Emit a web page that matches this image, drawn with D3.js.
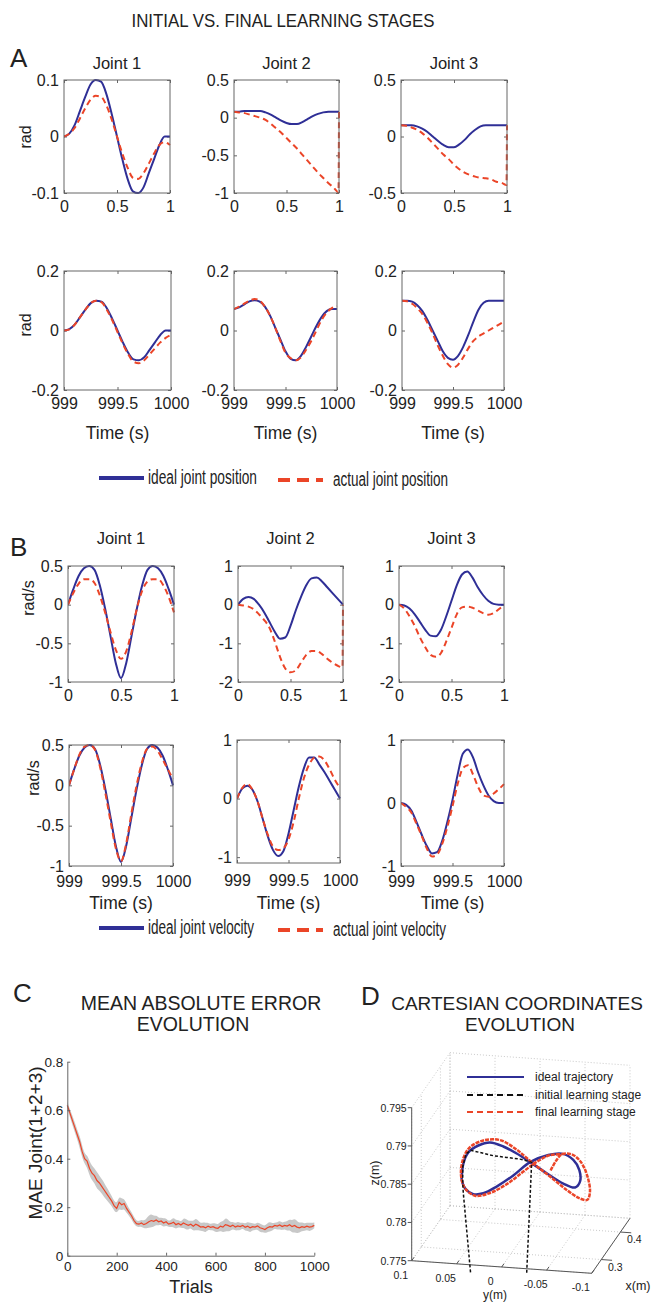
<!DOCTYPE html>
<html>
<head>
<meta charset="utf-8">
<script src="https://cdn.jsdelivr.net/npm/d3@7"></script>
<style>
  body { margin: 0; background: #fff; }
  text { font-family: "Liberation Sans", Arial, sans-serif; fill: #222; }
</style>
</head>
<body>
<svg id="fig" width="656" height="1302"></svg>
<script>
// ---------- data ----------
var jointNames = ["Joint 1", "Joint 2", "Joint 3"];

var tInit = [0, 0.05, 0.1, 0.15, 0.2, 0.25, 0.3, 0.35, 0.4, 0.45, 0.5, 0.55, 0.6, 0.65, 0.7, 0.75, 0.8, 0.85, 0.9, 0.95, 1];
var tInitJump = [0, 0.05, 0.1, 0.15, 0.2, 0.25, 0.3, 0.35, 0.4, 0.45, 0.5, 0.55, 0.6, 0.65, 0.7, 0.75, 0.8, 0.85, 0.9, 0.95, 0.995, 1];
var tFinal = [999, 999.05, 999.1, 999.15, 999.2, 999.25, 999.3, 999.35, 999.4, 999.45, 999.5, 999.55, 999.6, 999.65, 999.7, 999.75, 999.8, 999.85, 999.9, 999.95, 1000];

// A: joint positions, initial stage
var posIdealInit1 = [0, 0.005, 0.02, 0.045, 0.07, 0.092, 0.1, 0.097, 0.075, 0.04, 0, -0.04, -0.075, -0.097, -0.1, -0.09, -0.065, -0.04, -0.015, 0, 0];
var posActualInit1 = [0, 0.005, 0.015, 0.032, 0.05, 0.065, 0.072, 0.07, 0.055, 0.03, 0, -0.03, -0.055, -0.073, -0.075, -0.065, -0.048, -0.03, -0.015, -0.01, -0.015];
var posIdealInit2 = [0.08, 0.08, 0.09, 0.09, 0.09, 0.09, 0.07, 0.04, 0, -0.04, -0.07, -0.085, -0.085, -0.06, -0.02, 0.02, 0.05, 0.07, 0.08, 0.08, 0.08];
var posActualInit2 = [0.08, 0.07, 0.06, 0.04, 0.02, 0, -0.03, -0.08, -0.14, -0.2, -0.27, -0.34, -0.41, -0.49, -0.57, -0.65, -0.73, -0.8, -0.87, -0.93, -0.99, 0.08];
var posIdealInit3 = [0.1, 0.1, 0.1, 0.09, 0.07, 0.04, 0, -0.04, -0.075, -0.095, -0.095, -0.07, -0.03, 0.02, 0.06, 0.09, 0.1, 0.1, 0.1, 0.1, 0.1];
var posActualInit3 = [0.1, 0.095, 0.08, 0.06, 0.03, -0.01, -0.06, -0.11, -0.16, -0.2, -0.25, -0.29, -0.32, -0.34, -0.355, -0.365, -0.37, -0.38, -0.4, -0.41, -0.43, 0.1];

// A: joint positions, final stage
var posIdealFinal1 = [0, 0.005, 0.02, 0.045, 0.07, 0.092, 0.1, 0.097, 0.075, 0.04, 0, -0.04, -0.075, -0.097, -0.1, -0.09, -0.065, -0.04, -0.015, 0, 0];
var posActualFinal1 = [0, 0.004, 0.02, 0.045, 0.07, 0.092, 0.1, 0.095, 0.07, 0.035, -0.005, -0.045, -0.08, -0.105, -0.11, -0.1, -0.08, -0.06, -0.04, -0.025, -0.015];
var posIdealFinal2 = [0.072, 0.078, 0.088, 0.098, 0.102, 0.097, 0.08, 0.05, 0.01, -0.03, -0.07, -0.095, -0.1, -0.085, -0.055, -0.02, 0.015, 0.045, 0.065, 0.072, 0.072];
var posActualFinal2 = [0.072, 0.08, 0.09, 0.1, 0.106, 0.1, 0.08, 0.05, 0.01, -0.035, -0.075, -0.093, -0.1, -0.09, -0.065, -0.035, 0, 0.035, 0.06, 0.075, 0.082];
var posIdealFinal3 = [0.1, 0.1, 0.097, 0.085, 0.065, 0.035, 0, -0.035, -0.07, -0.092, -0.098, -0.085, -0.055, -0.015, 0.03, 0.07, 0.093, 0.1, 0.1, 0.1, 0.1];
var posActualFinal3 = [0.1, 0.098, 0.09, 0.075, 0.055, 0.025, -0.01, -0.05, -0.085, -0.113, -0.125, -0.115, -0.09, -0.06, -0.035, -0.02, -0.01, 0, 0.01, 0.02, 0.03];

// B: joint velocities, initial stage
var velIdealInit1 = [0, 0.2, 0.37, 0.47, 0.5, 0.45, 0.25, -0.05, -0.4, -0.75, -0.95, -0.75, -0.4, -0.05, 0.25, 0.45, 0.5, 0.47, 0.37, 0.2, 0];
var velActualInit1 = [0, 0.15, 0.27, 0.33, 0.33, 0.28, 0.12, -0.1, -0.35, -0.58, -0.7, -0.6, -0.35, -0.05, 0.18, 0.3, 0.33, 0.33, 0.25, 0.1, -0.1];
var velIdealInit2 = [0, 0.15, 0.2, 0.15, 0, -0.2, -0.45, -0.7, -0.88, -0.85, -0.55, -0.15, 0.2, 0.5, 0.68, 0.7, 0.6, 0.45, 0.3, 0.15, 0];
var velActualInit2 = [0, -0.02, -0.05, -0.12, -0.25, -0.4, -0.6, -0.95, -1.35, -1.65, -1.75, -1.7, -1.5, -1.3, -1.2, -1.2, -1.28, -1.4, -1.5, -1.58, -1.62, 0];
var velIdealInit3 = [0, -0.02, -0.1, -0.25, -0.45, -0.65, -0.8, -0.82, -0.65, -0.3, 0.1, 0.5, 0.78, 0.86, 0.7, 0.45, 0.25, 0.1, 0.02, 0, 0];
var velActualInit3 = [0, -0.1, -0.3, -0.55, -0.85, -1.1, -1.3, -1.35, -1.25, -0.95, -0.6, -0.25, -0.07, -0.05, -0.08, -0.15, -0.22, -0.26, -0.22, -0.12, 0];

// B: joint velocities, final stage
var velIdealFinal1 = [0, 0.2, 0.37, 0.47, 0.5, 0.45, 0.25, -0.05, -0.4, -0.75, -0.95, -0.75, -0.4, -0.05, 0.25, 0.45, 0.5, 0.47, 0.37, 0.2, 0];
var velActualFinal1 = [0, 0.2, 0.38, 0.48, 0.5, 0.44, 0.22, -0.1, -0.45, -0.78, -0.94, -0.72, -0.35, 0, 0.28, 0.45, 0.48, 0.43, 0.32, 0.2, 0.08];
var velIdealFinal2 = [0, 0.17, 0.22, 0.15, -0.05, -0.35, -0.65, -0.88, -0.98, -0.9, -0.6, -0.2, 0.2, 0.52, 0.7, 0.7, 0.58, 0.45, 0.3, 0.15, 0];
var velActualFinal2 = [0, 0.18, 0.25, 0.15, -0.05, -0.35, -0.62, -0.82, -0.88, -0.85, -0.7, -0.4, 0, 0.35, 0.58, 0.7, 0.72, 0.65, 0.5, 0.32, 0.18];
var velIdealFinal3 = [0, -0.03, -0.12, -0.3, -0.5, -0.68, -0.8, -0.78, -0.6, -0.3, 0.05, 0.45, 0.78, 0.85, 0.72, 0.48, 0.28, 0.12, 0.03, 0, 0];
var velActualFinal3 = [0, -0.06, -0.15, -0.33, -0.52, -0.72, -0.85, -0.82, -0.65, -0.38, -0.05, 0.3, 0.55, 0.6, 0.45, 0.25, 0.12, 0.1, 0.15, 0.22, 0.3];

// C: mean absolute error per trial
var trials = [0, 10, 20, 30, 40, 50, 60, 70, 80, 90, 100, 110, 120, 130, 140, 150, 160, 170, 180, 190, 200,
  210, 220, 230, 240, 250, 260, 270, 280, 290, 300, 310, 320, 330, 340, 350, 360, 370, 380, 390, 400,
  410, 420, 430, 440, 450, 460, 470, 480, 490, 500, 510, 520, 530, 540, 550, 560, 570, 580, 590, 600,
  610, 620, 630, 640, 650, 660, 670, 680, 690, 700, 710, 720, 730, 740, 750, 760, 770, 780, 790, 800,
  810, 820, 830, 840, 850, 860, 870, 880, 890, 900, 910, 920, 930, 940, 950, 960, 970, 980, 990, 1000];
var maeMean = [0.62, 0.59, 0.56, 0.53, 0.5, 0.47, 0.43, 0.4, 0.39, 0.36, 0.34, 0.33, 0.31, 0.3, 0.285, 0.27, 0.255, 0.24, 0.225, 0.205, 0.195,
  0.22, 0.21, 0.215, 0.195, 0.18, 0.165, 0.145, 0.132, 0.13, 0.135, 0.128, 0.133, 0.14, 0.145, 0.142, 0.147, 0.14, 0.143, 0.135, 0.14,
  0.13, 0.133, 0.138, 0.128, 0.133, 0.127, 0.135, 0.13, 0.125, 0.13, 0.122, 0.13, 0.125, 0.118, 0.12, 0.115, 0.122, 0.117, 0.12, 0.115,
  0.113, 0.122, 0.118, 0.128, 0.125, 0.12, 0.126, 0.118, 0.123, 0.12, 0.125, 0.117, 0.122, 0.115, 0.12, 0.118, 0.123, 0.115, 0.112, 0.108,
  0.115, 0.12, 0.118, 0.125, 0.122, 0.127, 0.12, 0.125, 0.122, 0.128, 0.12, 0.125, 0.118, 0.115, 0.12, 0.117, 0.122, 0.118, 0.12, 0.125];
var maeSpread = [0.015, 0.015, 0.02, 0.02, 0.02, 0.025, 0.025, 0.02, 0.025, 0.03, 0.03, 0.03, 0.035, 0.03, 0.03, 0.03, 0.025, 0.025, 0.02, 0.02, 0.02,
  0.025, 0.025, 0.02, 0.02, 0.015, 0.015, 0.015, 0.012, 0.012, 0.015, 0.015, 0.02, 0.025, 0.028, 0.022, 0.02, 0.015, 0.015, 0.018, 0.015,
  0.012, 0.015, 0.02, 0.018, 0.015, 0.012, 0.02, 0.022, 0.018, 0.015, 0.02, 0.025, 0.02, 0.015, 0.018, 0.02, 0.015, 0.012, 0.015, 0.018,
  0.015, 0.02, 0.022, 0.028, 0.025, 0.018, 0.015, 0.015, 0.018, 0.015, 0.012, 0.015, 0.018, 0.02, 0.015, 0.012, 0.015, 0.018, 0.015, 0.015,
  0.018, 0.02, 0.015, 0.012, 0.015, 0.018, 0.015, 0.015, 0.02, 0.022, 0.025, 0.028, 0.025, 0.02, 0.018, 0.015, 0.015, 0.018, 0.015, 0.012];

// D: cartesian trajectories (y, z in metres, drawn at depth trajDepth)
var trajDepth = 0.35;
var idealY = [0.0658, 0.0639, 0.0584, 0.0472, 0.0343, 0.0195, 0.0046, -0.0102, -0.0287, -0.0472, -0.0602, -0.0657, -0.065, -0.0583, -0.0454, -0.0305, -0.0102, 0.0084, 0.0269, 0.0417, 0.0528, 0.0621, 0.0658];
var idealZ = [0.7823, 0.7844, 0.7859, 0.7869, 0.7874, 0.787, 0.7862, 0.7852, 0.7839, 0.7827, 0.7823, 0.7831, 0.7846, 0.7859, 0.7866, 0.7863, 0.7852, 0.7833, 0.7817, 0.7807, 0.7805, 0.7812, 0.7823];
var finalY = [-0.0331, -0.0391, -0.0454, -0.0565, -0.0665, -0.0739, -0.0768, -0.0739, -0.0657, -0.0509, -0.0324, -0.012, 0.0046, 0.0232, 0.0417, 0.0565, 0.0639, 0.0665, 0.0621, 0.0509, 0.0343, 0.0158, -0.0028, -0.0176, -0.0324, -0.0454];
var finalZ = [0.7843, 0.7856, 0.7865, 0.7866, 0.7857, 0.7839, 0.7819, 0.7808, 0.7809, 0.7819, 0.7835, 0.7852, 0.7867, 0.7878, 0.7876, 0.7866, 0.7851, 0.7829, 0.7812, 0.7803, 0.7808, 0.7821, 0.7839, 0.7853, 0.7863, 0.7865];
var initY = [-0.0065, -0.012, 0.0009, 0.0158, 0.0306, 0.0454, 0.0554, 0.0609, 0.0646, 0.0646, 0.0639, 0.0558];
var initZ = [0.7707, 0.7852, 0.7855, 0.7856, 0.7857, 0.786, 0.7862, 0.7857, 0.784, 0.7818, 0.7805, 0.7701];
var dYTicks = [0.1, 0.05, 0, -0.05, -0.1];
var dXTicks = [0.3, 0.4];
var dZTicks = [0.775, 0.78, 0.785, 0.79, 0.795];

// ---------- styles ----------
var BLUE = "#2f2f96", RED = "#eb4528", AXIS = "#666";
var fmt = function(d) { return String(d); };

var svg = d3.select("#fig");

svg.append("text").attr("x", 283).attr("y", 27).attr("text-anchor", "middle")
  .attr("font-size", 18).attr("textLength", 303).attr("lengthAdjust", "spacingAndGlyphs")
  .text("INITIAL VS. FINAL LEARNING STAGES");

function letter(s, x, y) {
  svg.append("text").attr("x", x).attr("y", y).attr("font-size", 26).text(s);
}
letter("A", 10, 67);
letter("B", 10, 556);
letter("C", 13, 1002);
letter("D", 361, 1005);

var clipId = 0;
function panel(cfg) {
  var x0 = cfg.box[0], y0 = cfg.box[1], x1 = cfg.box[2], y1 = cfg.box[3];
  var x = d3.scaleLinear().domain(cfg.xDomain).range([x0, x1]);
  var y = d3.scaleLinear().domain(cfg.yDomain).range([y1, y0]);
  var g = svg.append("g");
  var id = "clip" + (clipId++);
  g.append("clipPath").attr("id", id).append("rect")
    .attr("x", x0).attr("y", y0 - 1).attr("width", x1 - x0 + 1).attr("height", y1 - y0 + 2);

  function styleAxis(a) {
    a.select(".domain").remove();
    a.selectAll("line").attr("stroke", AXIS);
    a.selectAll("text").attr("font-family", null).attr("font-size", 16).attr("fill", "#222");
  }
  g.append("g").attr("transform", "translate(" + x0 + ",0)")
    .call(d3.axisLeft(y).tickValues(cfg.yTicks).tickSize(-3).tickPadding(5).tickFormat(fmt)).call(styleAxis);
  g.append("g").attr("transform", "translate(" + x1 + ",0)")
    .call(d3.axisRight(y).tickValues(cfg.yTicks).tickSize(-3).tickFormat("")).call(styleAxis);
  g.append("g").attr("transform", "translate(0," + y1 + ")")
    .call(d3.axisBottom(x).tickValues(cfg.xTicks).tickSize(-3).tickPadding(cfg.xPad || 8).tickFormat(fmt)).call(styleAxis);
  g.append("g").attr("transform", "translate(0," + y0 + ")")
    .call(d3.axisTop(x).tickValues(cfg.xTicks).tickSize(-3).tickFormat("")).call(styleAxis);

  var line = d3.line().x(function(d) { return x(d[0]); }).y(function(d) { return y(d[1]); })
    .curve(d3.curveMonotoneX);
  var lines = g.append("g").attr("clip-path", "url(#" + id + ")");
  lines.append("path").attr("d", line(d3.zip(cfg.tIdeal, cfg.ideal)))
    .attr("fill", "none").attr("stroke", BLUE).attr("stroke-width", 2);
  lines.append("path").attr("d", line(d3.zip(cfg.tActual, cfg.actual)))
    .attr("fill", "none").attr("stroke", RED).attr("stroke-width", 2).attr("stroke-dasharray", "6,4");

  g.append("rect").attr("x", x0).attr("y", y0).attr("width", x1 - x0).attr("height", y1 - y0)
    .attr("fill", "none").attr("stroke", AXIS).attr("stroke-width", 1);

  if (cfg.title) {
    g.append("text").attr("x", (x0 + x1) / 2).attr("y", cfg.titleY).attr("text-anchor", "middle")
      .attr("font-size", 16.5).text(cfg.title);
  }
  if (cfg.xLabel) {
    g.append("text").attr("x", (x0 + x1) / 2).attr("y", cfg.xLabelY).attr("text-anchor", "middle")
      .attr("font-size", 17.5).text(cfg.xLabel);
  }
}

function yLabel(s, cx, cy) {
  svg.append("text").attr("transform", "translate(" + cx + "," + cy + ") rotate(-90)")
    .attr("text-anchor", "middle").attr("dy", "0.35em").attr("font-size", 16).text(s);
}

// ---- A row 1 ----
var boxesA1 = [[64, 80, 170, 193], [234, 80, 339, 193], [401, 80, 507, 193]];
var yDomA1 = [[-0.1, 0.1], [-1, 0.5], [-0.5, 0.5]];
var yTkA1 = [[-0.1, 0, 0.1], [-1, -0.5, 0, 0.5], [-0.5, 0, 0.5]];
var idA1 = [posIdealInit1, posIdealInit2, posIdealInit3];
var acA1 = [posActualInit1, posActualInit2, posActualInit3];
var tAcA1 = [tInit, tInitJump, tInitJump];
for (var i = 0; i < 3; i++) {
  panel({ box: boxesA1[i], xDomain: [0, 1], xTicks: [0, 0.5, 1], yDomain: yDomA1[i], yTicks: yTkA1[i],
    tIdeal: tInit, ideal: idA1[i], tActual: tAcA1[i], actual: acA1[i], title: jointNames[i], titleY: 69 });
}
yLabel("rad", 25, 137);

// ---- A row 2 ----
var boxesA2 = [[64, 271, 171, 390], [234, 271, 337, 390], [402, 271, 504, 390]];
var idA2 = [posIdealFinal1, posIdealFinal2, posIdealFinal3];
var acA2 = [posActualFinal1, posActualFinal2, posActualFinal3];
for (var i = 0; i < 3; i++) {
  panel({ box: boxesA2[i], xDomain: [999, 1000], xTicks: [999, 999.5, 1000], yDomain: [-0.2, 0.2], yTicks: [-0.2, 0, 0.2],
    tIdeal: tFinal, ideal: idA2[i], tActual: tFinal, actual: acA2[i], xLabel: "Time (s)", xLabelY: 439 });
}
yLabel("rad", 25, 325);

// ---- B row 1 ----
var boxesB1 = [[68, 566, 174, 682], [238, 566, 343, 682], [399, 566, 504, 682]];
var yDomB1 = [[-1, 0.5], [-2, 1], [-2, 1]];
var yTkB1 = [[-1, -0.5, 0, 0.5], [-2, -1, 0, 1], [-2, -1, 0, 1]];
var idB1 = [velIdealInit1, velIdealInit2, velIdealInit3];
var acB1 = [velActualInit1, velActualInit2, velActualInit3];
var tAcB1 = [tInit, tInitJump, tInit];
for (var i = 0; i < 3; i++) {
  panel({ box: boxesB1[i], xDomain: [0, 1], xTicks: [0, 0.5, 1], yDomain: yDomB1[i], yTicks: yTkB1[i],
    tIdeal: tInit, ideal: idB1[i], tActual: tAcB1[i], actual: acB1[i], title: jointNames[i], titleY: 544 });
}
yLabel("rad/s", 28, 598);

// ---- B row 2 ----
var boxesB2 = [[69, 745, 173, 866], [237, 740, 340, 863], [401, 740, 504, 866]];
var yDomB2 = [[-1, 0.5], [-1.1, 1], [-1, 1]];
var yTkB2 = [[-1, -0.5, 0, 0.5], [-1, 0, 1], [-1, 0, 1]];
var idB2 = [velIdealFinal1, velIdealFinal2, velIdealFinal3];
var acB2 = [velActualFinal1, velActualFinal2, velActualFinal3];
var padB2 = [10, 12, 10];
for (var i = 0; i < 3; i++) {
  panel({ box: boxesB2[i], xDomain: [999, 1000], xTicks: [999, 999.5, 1000], yDomain: yDomB2[i], yTicks: yTkB2[i],
    tIdeal: tFinal, ideal: idB2[i], tActual: tFinal, actual: acB2[i], xLabel: "Time (s)", xLabelY: 909, xPad: padB2[i] });
}
yLabel("rad/s", 33, 778);

// ---- legends A / B ----
function legendAB(yy, l1, w1, l2, w2) {
  svg.append("line").attr("x1", 99).attr("x2", 144).attr("y1", yy).attr("y2", yy)
    .attr("stroke", BLUE).attr("stroke-width", 4);
  svg.append("text").attr("x", 148).attr("y", yy + 6).attr("font-size", 20)
    .attr("textLength", w1).attr("lengthAdjust", "spacingAndGlyphs").text(l1);
  svg.append("line").attr("x1", 278).attr("x2", 323).attr("y1", yy + 2).attr("y2", yy + 2)
    .attr("stroke", RED).attr("stroke-width", 4).attr("stroke-dasharray", "12,7");
  svg.append("text").attr("x", 333).attr("y", yy + 8).attr("font-size", 20)
    .attr("textLength", w2).attr("lengthAdjust", "spacingAndGlyphs").text(l2);
}
legendAB(478, "ideal joint position", 109, "actual joint position", 115);
legendAB(928, "ideal joint velocity", 106, "actual joint velocity", 113);

// ---- C: MAE evolution ----
(function() {
  var x = d3.scaleLinear().domain([0, 1000]).range([67.3, 314.3]);
  var y = d3.scaleLinear().domain([0, 0.8]).range([1255.7, 1061.7]);
  var g = svg.append("g");
  g.append("text").attr("x", 201).attr("y", 1010).attr("text-anchor", "middle").attr("font-size", 19.5)
    .text("MEAN ABSOLUTE ERROR");
  g.append("text").attr("x", 193).attr("y", 1031).attr("text-anchor", "middle").attr("font-size", 19.5)
    .text("EVOLUTION");

  var data = d3.zip(trials, maeMean, maeSpread);
  g.append("path").attr("d", d3.area()
      .x(function(d) { return x(d[0]); })
      .y0(function(d) { return y(d[1] - d[2]); })
      .y1(function(d) { return y(d[1] + d[2]); })
      .curve(d3.curveBasis)(data))
    .attr("fill", "#c8c8c8");
  g.append("path").attr("d", d3.line()
      .x(function(d) { return x(d[0]); })
      .y(function(d) { return y(d[1]); })(data))
    .attr("fill", "none").attr("stroke", RED).attr("stroke-width", 1.2);

  function st(a) {
    a.select(".domain").attr("stroke", AXIS);
    a.selectAll("line").attr("stroke", AXIS);
    a.selectAll("text").attr("font-family", null).attr("font-size", 13.5).attr("fill", "#222");
  }
  g.append("g").attr("transform", "translate(67.3,0)")
    .call(d3.axisLeft(y).tickValues([0, 0.2, 0.4, 0.6, 0.8]).tickSize(-3).tickSizeOuter(0).tickPadding(4).tickFormat(fmt)).call(st);
  g.append("g").attr("transform", "translate(0,1255.7)")
    .call(d3.axisBottom(x).tickValues([0, 200, 400, 600, 800, 1000]).tickSize(-3).tickSizeOuter(0).tickPadding(6).tickFormat(fmt)).call(st);
  g.append("text").attr("x", 191).attr("y", 1293).attr("text-anchor", "middle").attr("font-size", 18).text("Trials");
  g.append("text").attr("transform", "translate(35,1143) rotate(-90)").attr("text-anchor", "middle")
    .attr("dy", "0.35em").attr("font-size", 19).text("MAE Joint(1+2+3)");
})();

// ---- D: cartesian coordinates ----
(function() {
  var pxX = d3.scaleLinear().domain([0.25, 0.45]).range([0, 38.3]);
  var pyX = d3.scaleLinear().domain([0.25, 0.45]).range([0, -55]);
  var pxY = d3.scaleLinear().domain([0.1, -0.1]).range([0, 180]);
  var pyY = d3.scaleLinear().domain([0.1, -0.1]).range([0, 12.6]);
  var pyZ = d3.scaleLinear().domain([0.775, 0.795]).range([0, -153]);
  function proj(px, py, pz) {
    return [411.7 + pxX(px) + pxY(py), 1260.7 + pyX(px) + pyY(py) + pyZ(pz)];
  }
  var X0 = 0.25, X1 = 0.45, Y0 = 0.1, Y1 = -0.1, Z0 = 0.775, Z1 = 0.795;
  var g = svg.append("g");

  g.append("text").attr("x", 517).attr("y", 1010).attr("text-anchor", "middle").attr("font-size", 19)
    .text("CARTESIAN COORDINATES");
  g.append("text").attr("x", 520).attr("y", 1031).attr("text-anchor", "middle").attr("font-size", 19)
    .text("EVOLUTION");

  var seg = function(a, b) { return [a, b]; };
  var grid = [];
  var yG = dYTicks, xG = [X0].concat(dXTicks, [X1]), zG = dZTicks;
  // floor
  yG.forEach(function(v) { grid.push(seg(proj(X0, v, Z0), proj(X1, v, Z0))); });
  xG.forEach(function(v) { grid.push(seg(proj(v, Y0, Z0), proj(v, Y1, Z0))); });
  // back wall (x = X1)
  zG.forEach(function(v) { grid.push(seg(proj(X1, Y0, v), proj(X1, Y1, v))); });
  yG.forEach(function(v) { grid.push(seg(proj(X1, v, Z0), proj(X1, v, Z1))); });
  // side wall (y = Y0)
  zG.forEach(function(v) { grid.push(seg(proj(X0, Y0, v), proj(X1, Y0, v))); });
  xG.forEach(function(v) { grid.push(seg(proj(v, Y0, Z0), proj(v, Y0, Z1))); });

  g.append("g").selectAll("line").data(grid).join("line")
    .attr("x1", function(d) { return d[0][0]; }).attr("y1", function(d) { return d[0][1]; })
    .attr("x2", function(d) { return d[1][0]; }).attr("y2", function(d) { return d[1][1]; })
    .attr("stroke", "#bbb").attr("stroke-width", 0.8).attr("stroke-dasharray", "1,2");

  // axes
  var axes = [
    seg(proj(X0, Y0, Z0), proj(X0, Y0, Z1)),
    seg(proj(X0, Y0, Z0), proj(X0, Y1, Z0)),
    seg(proj(X0, Y1, Z0), proj(X1, Y1, Z0))
  ];
  dZTicks.forEach(function(v) { var p = proj(X0, Y0, v); axes.push(seg(p, [p[0] - 4, p[1]])); });
  dYTicks.forEach(function(v) { axes.push(seg(proj(X0, v, Z0), proj(X0 + 0.012, v, Z0))); });
  dXTicks.forEach(function(v) { axes.push(seg(proj(v, Y1, Z0), proj(v, Y1 - 0.012, Z0))); });
  g.append("g").selectAll("line").data(axes).join("line")
    .attr("x1", function(d) { return d[0][0]; }).attr("y1", function(d) { return d[0][1]; })
    .attr("x2", function(d) { return d[1][0]; }).attr("y2", function(d) { return d[1][1]; })
    .attr("stroke", "#555").attr("stroke-width", 1);

  g.selectAll(".zt").data(dZTicks).join("text").attr("class", "zt")
    .attr("x", function(d) { return proj(X0, Y0, d)[0] - 5; })
    .attr("y", function(d) { return proj(X0, Y0, d)[1] + 4; })
    .attr("text-anchor", "end").attr("font-size", 10.5).attr("fill", "#333").text(fmt);
  g.selectAll(".yt").data(dYTicks).join("text").attr("class", "yt")
    .attr("x", function(d) { return proj(X0, d, Z0)[0] - 11; })
    .attr("y", function(d) { return proj(X0, d, Z0)[1] + 18; })
    .attr("text-anchor", "middle").attr("font-size", 10.5).attr("fill", "#333").text(fmt);
  g.selectAll(".xt").data(dXTicks).join("text").attr("class", "xt")
    .attr("x", function(d) { return proj(d, Y1, Z0)[0] + 14; })
    .attr("y", function(d) { return proj(d, Y1, Z0)[1] + 11; })
    .attr("text-anchor", "middle").attr("font-size", 10.5).attr("fill", "#333").text(fmt);

  g.append("text").attr("x", 638).attr("y", 1290).attr("text-anchor", "middle").attr("font-size", 12.5).text("x(m)");
  g.append("text").attr("x", 495).attr("y", 1299).attr("text-anchor", "middle").attr("font-size", 12).text("y(m)");
  g.append("text").attr("transform", "translate(375,1173) rotate(-90)").attr("text-anchor", "middle")
    .attr("dy", "0.35em").attr("font-size", 12.5).text("z(m)");

  var line3 = d3.line()
    .x(function(d) { return proj(trajDepth, d[0], d[1])[0]; })
    .y(function(d) { return proj(trajDepth, d[0], d[1])[1]; });
  g.append("path").attr("d", line3.curve(d3.curveCatmullRom)(d3.zip(idealY, idealZ)))
    .attr("fill", "none").attr("stroke", BLUE).attr("stroke-width", 2.5);
  g.append("path").attr("d", line3.curve(d3.curveCatmullRom)(d3.zip(finalY, finalZ)))
    .attr("fill", "none").attr("stroke", RED).attr("stroke-width", 2.5).attr("stroke-dasharray", "4,1");
  g.append("path").attr("d", line3.curve(d3.curveLinear)(d3.zip(initY, initZ)))
    .attr("fill", "none").attr("stroke", "#111").attr("stroke-width", 1.5).attr("stroke-dasharray", "3,2");

  // legend
  var leg = [
    { label: "ideal trajectory", color: BLUE, dash: null, y: 1077 },
    { label: "initial learning stage", color: "#111", dash: "6,4", y: 1095 },
    { label: "final learning stage", color: RED, dash: "6,4", y: 1112 }
  ];
  var lg = g.append("g").selectAll("g").data(leg).join("g");
  lg.append("line").attr("x1", 467).attr("x2", 524)
    .attr("y1", function(d) { return d.y; }).attr("y2", function(d) { return d.y; })
    .attr("stroke", function(d) { return d.color; }).attr("stroke-width", 2)
    .attr("stroke-dasharray", function(d) { return d.dash; });
  lg.append("text").attr("x", 535).attr("y", function(d) { return d.y + 4; })
    .attr("font-size", 12).attr("fill", "#333").text(function(d) { return d.label; });
})();
</script>
</body>
</html>
